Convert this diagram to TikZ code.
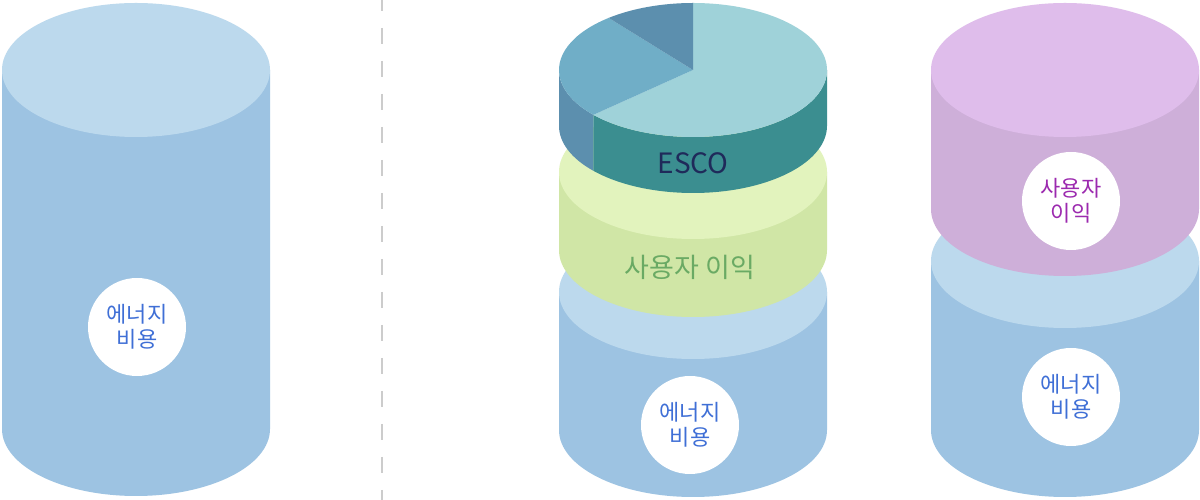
\documentclass[tikz,border=0pt]{standalone}
\usepackage{fontspec}
\setmainfont{Noto Sans CJK KR}
\definecolor{blueside}{HTML}{9DC3E2}
\definecolor{bluetop}{HTML}{BCD9ED}
\definecolor{greenside}{HTML}{D0E6A6}
\definecolor{greentop}{HTML}{E2F3BD}
\definecolor{purpleside}{HTML}{CEAFD9}
\definecolor{purpletop}{HTML}{DFBDEB}
\definecolor{pielight}{HTML}{9FD2D9}
\definecolor{piemid}{HTML}{70AEC7}
\definecolor{piedark}{HTML}{5C8FAE}
\definecolor{teal}{HTML}{3B8E90}
\definecolor{bluetext}{HTML}{3F6FD6}
\definecolor{purpletext}{HTML}{9C2AAF}
\definecolor{greentext}{HTML}{6AAA64}
\definecolor{escotext}{HTML}{1F2A5A}
\newcommand\mycyl[5]{%
  \fill[#4] ({#1-134},#2) -- ({#1-134},#3) arc[start angle=180,end angle=360,x radius=134,y radius=67] -- ({#1+134},#2) -- cycle;
  \fill[#5] (#1,#2) ellipse[x radius=134,y radius=67];
}
\begin{document}
\begin{tikzpicture}[x=1pt,y=1pt,
  bubble/.style={circle,fill=white,minimum size=98pt,inner sep=0pt,align=center,
    font=\fontsize{22}{25}\selectfont},
  bandlabel/.style={inner sep=0pt}]
\useasboundingbox (0,0) rectangle (1200,500);
\fill[white] (0,0) rectangle (1200,500);
% divider
\begin{scope}
\clip (0,0) rectangle (1200,500);
\draw[line width=2pt,color=black!20,dash pattern=on 16pt off 17pt] (381.5,505) -- (381.5,-5);
\end{scope}
% left cylinder
\mycyl{136}{430}{71}{blueside}{bluetop}
\node[bubble,text=bluetext] (c1) at (137,173) {에너지\\비용};
% middle stack
\mycyl{693}{208}{70}{blueside}{bluetop}
\node[bubble,text=bluetext] (c2) at (690,75) {에너지\\비용};
\mycyl{693}{328}{250}{greenside}{greentop}
\node[bandlabel,text=greentext,font=\fontsize{27}{30}\selectfont] (g) at (690,233) {사용자 이익};
% ESCO pie cylinder
\fill[piedark] (559,374) arc[start angle=180,end angle=222,x radius=134,y radius=67] -- ++(0,56) arc[start angle=222,end angle=180,x radius=134,y radius=67] -- cycle;
\fill[teal] ({693+134*cos(222)},{374+67*sin(222)}) arc[start angle=222,end angle=360,x radius=134,y radius=67] -- (827,430) arc[start angle=360,end angle=222,x radius=134,y radius=67] -- cycle;
\fill[pielight] (693,430) -- ({693+134*cos(222)},{430+67*sin(222)}) arc[start angle=222,end angle=450,x radius=134,y radius=67] -- cycle;
\fill[piemid] (693,430) -- ({693+134*cos(129)},{430+67*sin(129)}) arc[start angle=129,end angle=222,x radius=134,y radius=67] -- cycle;
\fill[piedark] (693,430) -- (693,497) arc[start angle=90,end angle=129,x radius=134,y radius=67] -- cycle;
\node[bandlabel,text=escotext,font=\fontsize{28}{32}\selectfont] (e) at (693,337) {ESCO};
% right stack
\mycyl{1065}{239}{70}{blueside}{bluetop}
\node[bubble,text=bluetext] (c3) at (1071,103) {에너지\\비용};
\mycyl{1065}{430}{291}{purpleside}{purpletop}
\node[bubble,text=purpletext] (c4) at (1071,299) {사용자\\이익};
\end{tikzpicture}
\end{document}
